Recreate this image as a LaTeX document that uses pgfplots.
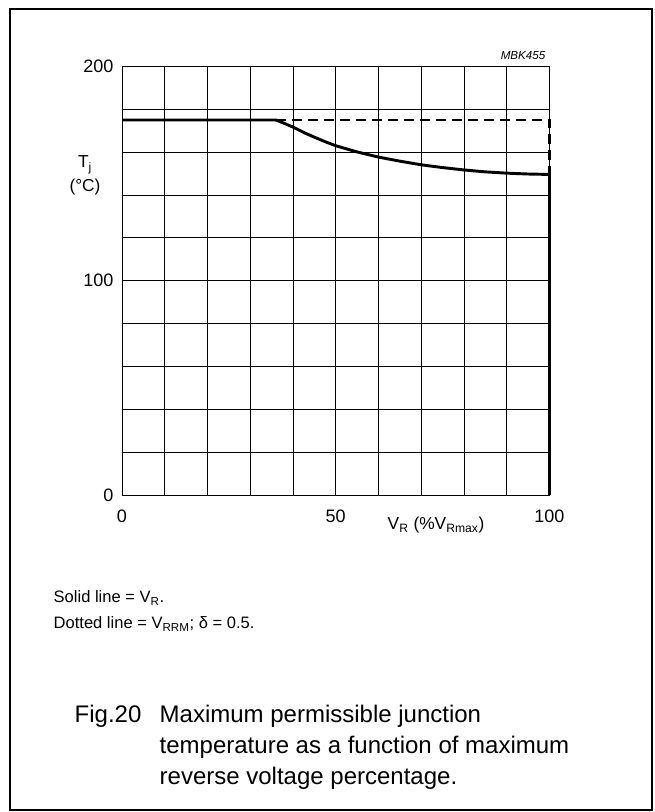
\documentclass[border=0pt]{standalone}
\usepackage{fontspec}
\setmainfont{Liberation Sans}
\usepackage{pgfplots}
\pgfplotsset{compat=1.18}

\begin{document}
\begin{tikzpicture}[x=0.75pt,y=0.75pt]
\useasboundingbox (0,0) rectangle (655,812);
% outer frame
\draw[line width=1.1pt] (10,2) rectangle (652,803);

% axis placed in absolute units (px * 0.75pt)
\begin{axis}[
    at={(91.5pt,237.75pt)}, anchor=south west,
    scale only axis, width=320.6pt, height=321.4pt,
    xmin=0, xmax=100, ymin=0, ymax=200,
    xtick={0,10,...,100}, xticklabels={0,,,,,50,,,,,100},
    ytick={0,20,...,200}, yticklabels={0,,,,,100,,,,,200},
    grid=major, major grid style={black, line width=0.6pt},
    axis line style={line width=0.6pt},
    major tick length=0pt,
    tick label style={font=\fontsize{13.5}{16}\selectfont},
    xticklabel style={yshift=-7.5pt},
    yticklabel style={xshift=-3pt},
    /pgf/number format/assume math mode=true,
    clip=false,
]
% dotted line = V_RRM, delta = 0.5
\addplot[black, line width=2pt, dash pattern=on 7.5pt off 4.5pt]
    coordinates {(36,175) (100,175) (100,150)};
% solid line = V_R
\addplot[black, line width=2.2pt, line join=round]
    coordinates {(0,175) (36,175) (38,173.4) (40,171.7) (42.5,169.2) (45,167)
                 (47.5,164.9) (50,163) (55,160.1) (60,157.7) (65,155.8)
                 (70,154.1) (75,152.8) (80,151.7) (85,150.8) (90,150.2)
                 (95,149.8) (100,149.6) (100,0)};
\end{axis}

\node[anchor=base east, font=\fontsize{8.7}{10}\selectfont\itshape] at (550,752) {MBK455};
\node[anchor=base, font=\fontsize{13}{15}\selectfont] at (85,644) {T\textsubscript{j}};
\node[anchor=base, font=\fontsize{13}{15}\selectfont] at (85,620) {(°C)};
\node[anchor=base west, font=\fontsize{13}{15}\selectfont] at (383,282)
    {V\textsubscript{R} (\%V\textsubscript{Rmax})};

\node[anchor=base west, font=\fontsize{12.4}{15}\selectfont] at (49,209) {Solid line = V\textsubscript{R}.};
\node[anchor=base west, font=\fontsize{12.4}{15}\selectfont] at (49,183) {Dotted line = V\textsubscript{RRM}; δ = 0.5.};

\node[anchor=base west, font=\fontsize{18}{22}\selectfont] at (70,89) {Fig.20};
\node[anchor=base west, font=\fontsize{18}{22}\selectfont] at (155,89) {Maximum permissible junction};
\node[anchor=base west, font=\fontsize{18}{22}\selectfont] at (155,58) {temperature as a function of maximum};
\node[anchor=base west, font=\fontsize{18}{22}\selectfont] at (155,27) {reverse voltage percentage.};
\end{tikzpicture}
\end{document}
